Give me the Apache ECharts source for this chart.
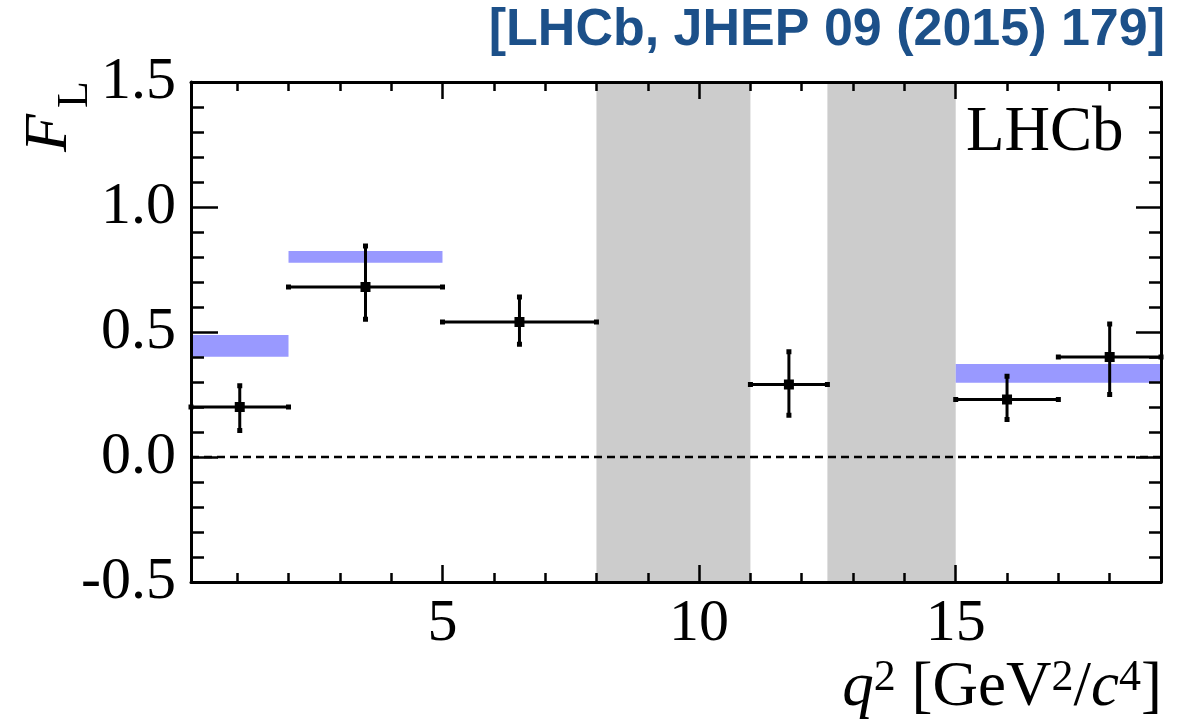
<!DOCTYPE html>
<html>
<head>
<meta charset="utf-8">
<script src="https://cdn.jsdelivr.net/npm/echarts@6/dist/echarts.min.js"></script>
<style>
  html, body { margin: 0; padding: 0; background: #ffffff; }
  #chart { width: 1196px; height: 722px; }
</style>
</head>
<body>
<div id="chart"></div>
<script>
// q^2 bins (GeV^2/c^4) and measured F_L with asymmetric uncertainties
const binLo = [0.1, 2, 5, 11, 15, 17];
const binHi = [2, 5, 8, 12.5, 17, 19];
const binCenter = [1.05, 3.5, 6.5, 11.75, 16, 18];
const fL = [0.20, 0.68, 0.54, 0.29, 0.23, 0.40];
const fLErrUp = [0.085, 0.164, 0.10, 0.131, 0.093, 0.132];
const fLErrDown = [0.094, 0.129, 0.089, 0.123, 0.080, 0.150];

// Standard Model prediction bands
const smLo = [0.1, 2, 15];
const smHi = [2, 5, 19];
const smMin = [0.401, 0.777, 0.297];
const smMax = [0.488, 0.824, 0.372];

// Vetoed charmonium regions
const vetoLo = [8, 12.5];
const vetoHi = [11, 15];

// Axis ranges and ticks
const xMin = 0.1, xMax = 19;
const yMin = -0.5, yMax = 1.5;
const xMajorTicks = [5, 10, 15];
const xMinorTicks = [1, 2, 3, 4, 6, 7, 8, 9, 11, 12, 13, 14, 16, 17, 18];

const chart = echarts.init(document.getElementById('chart'), null, { renderer: 'canvas' });

const serif = "'Liberation Serif', 'DejaVu Serif', serif";
const black = '#000000';

function xAxisDef(position, ticks, len, showLine, showLabel) {
  return {
    type: 'value', position: position, min: xMin, max: xMax, z: 10,
    axisLine: { show: showLine, onZero: false, lineStyle: { color: black, width: 3 } },
    axisTick: { show: true, inside: true, length: len, customValues: ticks, lineStyle: { color: black, width: 2.5 } },
    axisLabel: { show: showLabel, customValues: ticks, margin: 12, fontFamily: serif, fontSize: 60, color: black },
    splitLine: { show: false }
  };
}

function yAxisDef(position, len, minorLen, showLabel) {
  return {
    type: 'value', position: position, min: yMin, max: yMax, interval: 0.5, z: 10,
    axisLine: { show: true, onZero: false, lineStyle: { color: black, width: 3 } },
    axisTick: { show: true, inside: true, length: len, lineStyle: { color: black, width: 2.5 } },
    minorTick: { show: true, splitNumber: 5, length: minorLen, lineStyle: { color: black, width: 2.5 } },
    axisLabel: { show: showLabel, margin: 15, fontFamily: serif, fontSize: 60, color: black,
      formatter: function (v) { return v.toFixed(1); } },
    splitLine: { show: false },
    minorSplitLine: { show: false }
  };
}

const points = binCenter.map(function (c, i) {
  return [c, fL[i], binLo[i], binHi[i], fL[i] - fLErrDown[i], fL[i] + fLErrUp[i]];
});

function renderErrorPoint(params, api) {
  const x = api.value(0), y = api.value(1);
  const c = api.coord([x, y]);
  const l = api.coord([api.value(2), y]);
  const r = api.coord([api.value(3), y]);
  const b = api.coord([x, api.value(4)]);
  const t = api.coord([x, api.value(5)]);
  const ls = { stroke: black, lineWidth: 3 };
  const cap = 5, box = 10;
  function sq(p, s) {
    return { type: 'rect', shape: { x: p[0] - s / 2, y: p[1] - s / 2, width: s, height: s }, style: { fill: black } };
  }
  return {
    type: 'group',
    children: [
      { type: 'line', shape: { x1: l[0], y1: l[1], x2: r[0], y2: r[1] }, style: ls },
      { type: 'line', shape: { x1: b[0], y1: b[1], x2: t[0], y2: t[1] }, style: ls },
      sq(l, cap), sq(r, cap), sq(b, cap), sq(t, cap),
      sq(c, box)
    ]
  };
}

const option = {
  animation: false,
  backgroundColor: '#ffffff',
  grid: { left: 191, right: 35, top: 82, bottom: 140, containLabel: false },
  xAxis: [
    xAxisDef('bottom', xMajorTicks, 17, true, true),
    xAxisDef('bottom', xMinorTicks, 9, false, false),
    xAxisDef('top', xMajorTicks, 17, true, false),
    xAxisDef('top', xMinorTicks, 9, false, false)
  ],
  yAxis: [
    yAxisDef('left', 27, 13, true),
    yAxisDef('right', 25, 12, false)
  ],
  series: [
    {
      // dashed zero reference line
      type: 'line', xAxisIndex: 0, yAxisIndex: 0, z: 1,
      data: [[xMin, 0], [xMax, 0]],
      symbol: 'none', silent: true,
      lineStyle: { color: black, width: 2.5, type: [8, 5] }
    },
    {
      // vetoed regions and SM bands
      type: 'line', xAxisIndex: 0, yAxisIndex: 0, z: 2, data: [], silent: true,
      markArea: {
        silent: true,
        data: vetoLo.map(function (lo, i) {
          return [{ xAxis: lo, itemStyle: { color: '#cccccc' } }, { xAxis: vetoHi[i] }];
        }).concat(smLo.map(function (lo, i) {
          return [{ xAxis: lo, yAxis: smMin[i], itemStyle: { color: '#9999ff' } }, { xAxis: smHi[i], yAxis: smMax[i] }];
        }))
      }
    },
    {
      type: 'custom', xAxisIndex: 0, yAxisIndex: 0, z: 5,
      renderItem: renderErrorPoint,
      data: points,
      silent: true
    }
  ],
  graphic: [
    {
      type: 'text', right: 31, top: 5,
      style: { text: '[LHCb, JHEP 09 (2015) 179]', fontFamily: "'Liberation Sans', Arial, sans-serif",
        fontWeight: 'bold', fontSize: 52, fill: '#1c5089' }
    },
    {
      type: 'text', x: 966, y: 102,
      style: { text: 'LHCb', fontFamily: serif, fontSize: 63, fill: black, textVerticalAlign: 'top' }
    },
    {
      // F_L axis title, written bottom-to-top
      type: 'text', x: 19, y: 152, rotation: Math.PI / 2,
      style: { text: 'F', fontFamily: serif, fontStyle: 'italic', fontSize: 62, fill: black,
        textAlign: 'left', textVerticalAlign: 'top' }
    },
    {
      type: 'text', x: 53, y: 108, rotation: Math.PI / 2,
      style: { text: 'L', fontFamily: serif, fontSize: 44, fill: black,
        textAlign: 'left', textVerticalAlign: 'top' }
    },
    {
      type: 'text', right: 34, bottom: 2,
      style: {
        text: '{i|q}{s|2}{r| [GeV}{s|2}{r|/}{i|c}{s|4}{r|]}',
        rich: {
          i: { fontFamily: serif, fontStyle: 'italic', fontSize: 63, fill: black, lineHeight: 64, verticalAlign: 'bottom' },
          r: { fontFamily: serif, fontSize: 63, fill: black, lineHeight: 64, verticalAlign: 'bottom' },
          s: { fontFamily: serif, fontSize: 44, fill: black, lineHeight: 44, verticalAlign: 'top' }
        }
      }
    }
  ]
};

chart.setOption(option);
</script>
</body>
</html>
